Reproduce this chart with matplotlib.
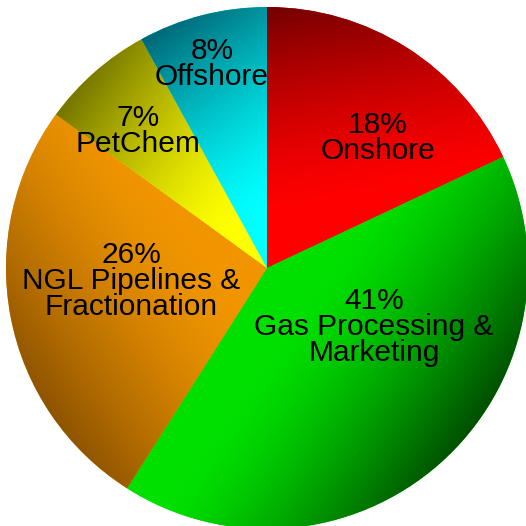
import numpy as np
import matplotlib
matplotlib.use("Agg")
import matplotlib.pyplot as plt
from matplotlib.colors import to_rgb

# data
segments = ["Onshore", "Gas Processing &\nMarketing", "NGL Pipelines &\nFractionation",
            "PetChem", "Offshore"]
shares = [18, 41, 26, 7, 8]

# style
light = ["#ff0000", "#00e000", "#f09500", "#ffff00", "#00ffff"]
dark = ["#700000", "#004e00", "#8e5400", "#747400", "#006474"]
shade_dir = [100, -35, 215, 145, 125]   # direction (deg) where each slice gets darkest
label_xy = [(378, 138), (374, 327), (131, 281), (138, 131), (212, 64)]  # px, from top-left

W = H = 526
cx, cy, R = 267, H - 268, 261

fig = plt.figure(figsize=(W / 100, H / 100), dpi=100)
ax = fig.add_axes([0, 0, 1, 1])

wedges, _ = ax.pie(shares, startangle=90, counterclock=False, center=(cx, cy),
                   radius=R, frame=True, wedgeprops=dict(linewidth=0))
ax.set_xlim(0, W)
ax.set_ylim(0, H)
ax.set_aspect("equal")
ax.axis("off")

xs = np.arange(W) + 0.5
ys = np.arange(H) + 0.5
xx, yy = np.meshgrid(xs, ys)

for i, w in enumerate(wedges):
    a = np.radians(shade_dir[i])
    proj = ((xx - cx) * np.cos(a) + (yy - cy) * np.sin(a)) / R
    t = (np.clip((proj - 0.2) / 0.8, 0, 1) ** 1.4)[..., None]
    c0 = np.array(to_rgb(light[i]))
    c1 = np.array(to_rgb(dark[i]))
    img = c0 * (1 - t) + c1 * t
    w.set_facecolor(light[i])
    im = ax.imshow(img, extent=(0, W, 0, H), origin="lower", interpolation="bilinear", zorder=2)
    im.set_clip_path(w)

for i, name in enumerate(segments):
    x, y = label_xy[i]
    ax.text(x, H - y, f"{shares[i]}%\n{name}", ha="center", va="center",
            fontsize=21.5, family="Liberation Sans", color="black",
            linespacing=0.92, zorder=3)

fig.savefig("out.png", dpi=100, facecolor="white")
